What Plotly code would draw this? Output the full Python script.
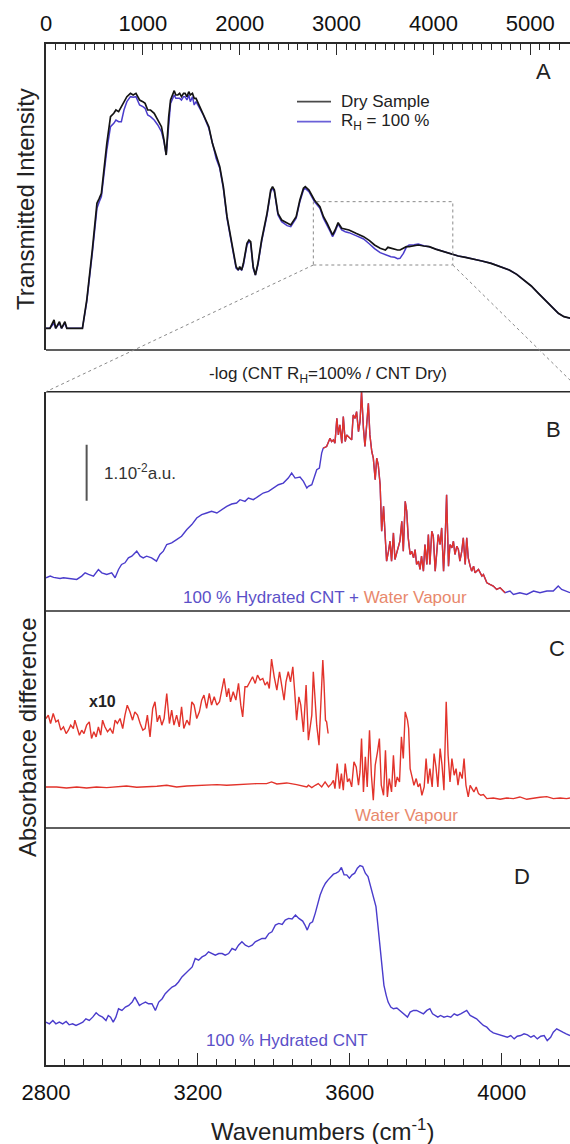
import plotly.graph_objects as go

# ---------------- Panel A : transmitted intensity ----------------
A_WAVENUMBER = [0, 40, 83, 100, 139, 160, 195, 215, 376, 421, 478, 526, 550, 572, 628, 666, 700, 722, 750,
                778, 805, 835, 872, 900, 929, 966, 1000, 1023, 1050, 1079, 1117, 1154, 1192, 1218, 1241, 1267,
                1286, 1324, 1340, 1361, 1380, 1399, 1420, 1436, 1455, 1474, 1490, 1512, 1530, 1549, 1587, 1624,
                1681, 1718, 1740, 1756, 1794, 1831, 1869, 1925, 1963, 1985, 2000, 2020, 2038, 2075, 2095, 2113,
                2139, 2162, 2188, 2226, 2282, 2320, 2339, 2358, 2395, 2433, 2460, 2489, 2527, 2583, 2621, 2658,
                2677, 2715, 2771, 2828, 2865, 2903, 2935, 2959, 2985, 3016, 3053, 3090, 3128, 3200, 3279, 3340,
                3392, 3450, 3504, 3530, 3561, 3600, 3630, 3655, 3690, 3720, 3749, 3800, 3843, 3900, 3956, 4030,
                4106, 4180, 4256, 4330, 4407, 4500, 4595, 4690, 4783, 4860, 4933, 5010, 5084, 5160, 5234, 5290,
                5347, 5414]
A_DRY = [6.5, 6.5, 9.0, 6.5, 8.5, 6.5, 8.5, 6.5, 6.5, 15.0, 30.0, 44.0, 45.5, 47.0, 62.0, 70.0, 71.0, 72.0, 71.5,
         73.0, 74.5, 76.0, 77.0, 76.5, 77.0, 75.0, 74.5, 74.0, 72.0, 72.0, 71.0, 69.0, 67.0, 63.0, 58.5, 70.0,
         75.0, 77.8, 76.5, 76.5, 77.0, 76.0, 77.0, 77.0, 76.0, 77.5, 76.5, 77.0, 75.5, 75.5, 73.0, 71.0,
         67.0, 62.0, 60.0, 58.0, 55.0, 49.0, 40.0, 31.0, 25.0, 24.0, 25.0, 24.0, 26.0, 32.0, 33.0, 32.5,
         25.0, 22.5, 26.0, 33.0, 41.0, 48.0, 49.0, 48.0, 41.0, 39.0, 38.5, 38.0, 37.5, 40.0, 45.0, 48.5,
         49.0, 48.0, 45.0, 43.0, 40.0, 38.0, 36.0, 34.5, 36.0, 38.2, 36.5, 36.3, 36.0, 35.0, 34.0, 32.8,
         31.5, 30.5, 30.0, 30.8, 30.5, 30.2, 30.0, 30.0, 30.5, 31.0, 31.0, 31.2, 31.5, 31.2, 31.0, 30.2,
         29.5, 28.8, 28.2, 27.8, 27.2, 26.7, 26.0, 25.1, 24.0, 22.7, 21.0, 19.2, 17.0, 14.8, 12.5, 11.0,
         10.0, 9.5]
A_WET = [6.5, 6.5, 8.0, 6.5, 8.0, 6.5, 8.0, 6.5, 6.5, 14.5, 29.0, 42.5, 44.5, 46.0, 60.0, 67.0, 68.0, 69.0, 68.5,
         68.5, 72.0, 74.5, 76.0, 75.8, 76.0, 73.5, 73.0, 72.5, 70.5, 70.0, 69.0, 67.5, 65.5, 62.5, 58.5, 69.0,
         74.0, 76.5, 75.5, 75.5, 75.5, 75.0, 76.0, 76.0, 75.0, 76.5, 74.5, 76.0, 73.5, 74.5, 72.5, 70.5,
         66.5, 61.5, 59.5, 57.5, 54.5, 48.5, 39.5, 30.5, 24.5, 24.0, 24.5, 24.0, 25.5, 31.5, 32.5, 32.0,
         24.5, 22.5, 25.5, 32.5, 40.5, 47.5, 48.5, 47.5, 40.5, 38.5, 37.8, 37.3, 37.0, 39.5, 44.5, 48.0,
         48.5, 47.5, 44.5, 42.5, 39.5, 37.5, 35.5, 34.0, 35.5, 37.8, 36.0, 35.5, 35.2, 34.3, 33.3, 31.8,
         30.4, 29.2, 28.5, 28.3, 28.0, 27.8, 27.4, 27.5, 29.0, 30.8, 31.5, 31.6, 31.8, 31.3, 31.0, 30.2,
         29.5, 28.8, 28.2, 27.8, 27.2, 26.7, 26.0, 25.1, 24.0, 22.7, 21.0, 19.2, 17.0, 14.8, 12.5, 11.0,
         10.0, 9.5]
A_TICKS = [0, 1000, 2000, 3000, 4000, 5000]
A_LEGEND = ["Dry Sample", "R<sub>H</sub> = 100 %"]
ZOOM_BOX = (2760, 4200, 25.5, 44.5)   # wavenumber span and intensity span of the magnified region

# ---------------- Panel B : hydrated CNT + water vapour ----------------
B_WAVENUMBER = [2800, 2811, 2820, 2828, 2837, 2846, 2855, 2863, 2872, 2881, 2894, 2903, 2912, 2925, 2938, 2947,
                2960, 2973, 2982, 2991, 2999, 3008, 3017, 3026, 3039, 3048, 3056, 3065, 3078, 3091, 3100, 3109,
                3118, 3131, 3144, 3157, 3171, 3184, 3197, 3210, 3223, 3236, 3250, 3263, 3276, 3289, 3302, 3311,
                3324, 3333, 3346, 3359, 3372, 3386, 3399, 3412, 3425, 3438, 3447, 3456, 3469, 3478, 3487, 3491,
                3500, 3509, 3513, 3520, 3526, 3530, 3539, 3548, 3552, 3557, 3561, 3566, 3570, 3574, 3579, 3583,
                3588, 3592, 3601, 3605, 3609, 3614, 3618, 3623, 3627, 3631, 3636, 3640, 3649, 3653, 3658, 3662,
                3667, 3671, 3675, 3680, 3684, 3689, 3693, 3697, 3702, 3706, 3710, 3715, 3719, 3724, 3732, 3737,
                3741, 3746, 3750, 3754, 3759, 3763, 3768, 3772, 3776, 3781, 3785, 3789, 3794, 3798, 3803, 3807,
                3811, 3816, 3820, 3825, 3829, 3833, 3838, 3842, 3847, 3851, 3855, 3860, 3864, 3869, 3873, 3877,
                3882, 3886, 3890, 3895, 3899, 3904, 3908, 3912, 3917, 3921, 3926, 3930, 3939, 3948, 3952, 3961,
                3969, 3978, 3987, 3996, 4009, 4022, 4031, 4048, 4066, 4084, 4101, 4119, 4136, 4149, 4158, 4171,
                4180]
B_ABS = [10.0, 10.5, 10.1, 10.0, 9.8, 10.0, 9.9, 9.7, 9.8, 9.5, 10.5, 11.5, 11.0, 10.5, 12.5, 11.5,
         11.0, 11.5, 10.0, 12.5, 14.0, 14.5, 16.0, 16.5, 18.0, 16.5, 16.0, 16.5, 16.0, 15.0, 17.0, 18.0,
         20.0, 20.5, 21.5, 22.5, 24.5, 26.0, 28.0, 29.0, 29.5, 30.0, 29.5, 30.5, 31.5, 32.2, 32.5, 33.5,
         33.0, 34.0, 33.5, 34.5, 35.5, 36.0, 37.0, 38.0, 38.5, 40.0, 41.5, 40.0, 40.3, 39.0, 37.0, 37.5,
         38.0, 41.0, 42.5, 43.0, 47.5, 49.0, 49.5, 52.0, 51.0, 51.5, 50.5, 58.0, 53.0, 56.0, 50.5, 58.5,
         51.0, 53.0, 52.0, 51.5, 59.0, 58.0, 60.0, 54.0, 57.0, 66.0, 55.0, 49.5, 62.5, 53.0, 48.0, 46.0,
         39.5, 46.0, 44.0, 38.0, 24.0, 31.5, 23.0, 15.0, 18.0, 21.0, 15.0, 23.5, 15.5, 18.0, 21.0, 27.0,
         18.0, 33.0, 30.0, 22.0, 17.0, 18.0, 16.0, 18.5, 14.0, 15.0, 12.5, 16.5, 12.0, 20.0, 14.0, 23.0,
         14.0, 24.0, 22.5, 12.0, 18.0, 23.0, 20.0, 25.0, 12.0, 21.0, 35.0, 13.5, 20.0, 19.0, 21.0, 17.0,
         19.5, 18.5, 15.0, 18.0, 22.0, 14.0, 22.0, 16.0, 13.5, 12.0, 13.5, 11.5, 12.5, 10.5, 11.0, 8.5,
         8.0, 7.5, 6.5, 7.0, 5.5, 6.0, 5.0, 5.5, 5.0, 6.0, 5.5, 6.0, 6.0, 7.5, 6.5, 6.0,
         5.5]
B_VAPOUR_SPAN = (3530, 4010)     # part of the spectrum dominated by water-vapour lines
SCALE_BAR = (2907, 33.2, 50.0)   # wavenumber, bottom, top : 1.10^-2 a.u.

# ---------------- Panel C : water vapour (and x10 magnification) ----------------
C_X10_WAVENUMBER = [2800, 2806, 2812, 2819, 2826, 2832, 2839, 2846, 2853, 2859, 2865, 2872, 2876, 2883, 2888,
                    2894, 2900, 2907, 2914, 2920, 2926, 2932, 2938, 2944, 2949, 2955, 2962, 2969, 2976, 2982,
                    2988, 2995, 3002, 3008, 3014, 3021, 3028, 3034, 3041, 3048, 3055, 3061, 3067, 3074, 3081,
                    3087, 3093, 3099, 3105, 3111, 3118, 3125, 3131, 3137, 3144, 3151, 3157, 3163, 3171, 3178,
                    3184, 3190, 3197, 3204, 3210, 3216, 3223, 3230, 3236, 3243, 3250, 3257, 3263, 3269, 3276,
                    3281, 3286, 3293, 3300, 3307, 3313, 3318, 3324, 3330, 3337, 3344, 3351, 3357, 3364, 3371,
                    3377, 3383, 3388, 3394, 3401, 3408, 3415, 3421, 3427, 3432, 3438, 3444, 3450, 3455, 3460,
                    3466, 3471, 3478, 3485, 3491, 3500, 3504, 3509, 3513, 3519, 3523, 3529, 3532, 3536, 3539,
                    3543]
C_X10_ABS = [32.8, 33.8, 31.3, 34.3, 31.8, 32.3, 29.3, 30.3, 28.3, 29.3, 30.8, 29.8, 32.3, 29.8, 27.8,
             29.3, 28.3, 30.8, 31.8, 26.8, 28.8, 27.3, 30.3, 27.8, 32.3, 30.3, 28.8, 29.8, 28.3, 32.3,
             31.3, 32.8, 29.8, 33.8, 36.8, 34.8, 32.3, 34.8, 33.8, 31.3, 29.3, 29.8, 33.8, 27.3, 35.8,
             37.8, 31.8, 33.8, 30.8, 32.8, 40.3, 31.3, 35.3, 30.8, 33.8, 30.3, 36.3, 29.8, 32.3, 30.8,
             37.8, 36.8, 32.8, 34.8, 38.3, 39.8, 35.8, 40.3, 36.8, 39.3, 36.8, 37.8, 41.3, 44.8, 39.3,
             41.8, 37.8, 40.8, 38.3, 43.3, 36.8, 33.3, 42.3, 42.3, 43.8, 45.3, 43.3, 45.8, 44.3, 44.8,
             42.8, 43.8, 41.8, 50.6, 45.3, 41.3, 46.8, 41.8, 38.3, 43.8, 46.8, 43.8, 48.3, 40.8, 32.3,
             39.3, 36.8, 28.8, 42.8, 26.3, 33.8, 46.8, 36.8, 30.8, 24.8, 34.8, 50.3, 43.8, 32.3, 31.8,
             28.3]
C_WAVENUMBER = [2800, 2828, 2854, 2881, 2907, 2933, 2960, 2986, 3012, 3039, 3065, 3092, 3118, 3144, 3171,
                3197, 3223, 3250, 3276, 3302, 3329, 3355, 3381, 3394, 3408, 3434, 3460, 3487, 3491, 3500,
                3509, 3517, 3526, 3535, 3544, 3552, 3557, 3561, 3567, 3573, 3578, 3583, 3588, 3594, 3599,
                3605, 3611, 3617, 3623, 3627, 3631, 3636, 3641, 3646, 3652, 3657, 3662, 3667, 3673, 3678,
                3683, 3689, 3694, 3699, 3704, 3710, 3715, 3720, 3725, 3731, 3736, 3741, 3746, 3752, 3755,
                3759, 3764, 3769, 3775, 3780, 3785, 3790, 3796, 3801, 3806, 3811, 3817, 3822, 3827, 3832,
                3838, 3843, 3848, 3854, 3859, 3864, 3869, 3875, 3880, 3885, 3890, 3896, 3901, 3906, 3912,
                3917, 3922, 3927, 3933, 3939, 3945, 3952, 3961, 3978, 3996, 4013, 4031, 4048, 4066, 4084,
                4101, 4119, 4136, 4154, 4171, 4180]
C_ABS = [12.3, 12.3, 12.0, 12.3, 12.0, 12.3, 12.1, 12.3, 12.6, 12.2, 12.3, 12.5, 12.8, 12.3, 12.6,
         12.8, 12.8, 13.0, 12.8, 13.0, 13.2, 13.3, 13.3, 13.8, 13.2, 13.5, 13.0, 12.3, 12.8, 12.1,
         12.8, 13.3, 12.3, 13.8, 12.3, 13.3, 14.3, 11.8, 19.3, 11.8, 16.3, 11.3, 19.3, 13.8, 14.8,
         12.3, 19.8, 18.3, 12.8, 16.8, 26.8, 10.8, 21.3, 12.3, 29.3, 15.8, 8.3, 18.8, 22.8, 26.8,
         12.8, 9.8, 23.3, 9.3, 14.8, 10.8, 21.8, 12.3, 15.3, 13.8, 27.3, 20.8, 34.8, 32.3, 29.8,
         17.8, 15.3, 12.8, 14.8, 12.3, 13.3, 9.8, 12.3, 20.8, 13.3, 17.8, 12.3, 22.3, 18.3, 12.3,
         23.8, 18.8, 11.3, 37.8, 21.8, 13.8, 20.8, 15.8, 17.8, 12.8, 16.8, 14.8, 20.8, 12.8, 9.3,
         12.8, 11.8, 10.8, 12.3, 10.3, 9.8, 10.0, 8.8, 9.0, 8.6, 9.0, 8.8, 9.3, 8.6, 9.0,
         9.2, 9.4, 8.8, 9.0, 8.8, 9.0]

# ---------------- Panel D : 100 % hydrated CNT ----------------
D_WAVENUMBER = [2800, 2809, 2818, 2826, 2835, 2844, 2853, 2861, 2870, 2879, 2888, 2897, 2905, 2914, 2923,
                2932, 2940, 2949, 2958, 2964, 2970, 2977, 2984, 2991, 3000, 3009, 3018, 3027, 3034, 3039,
                3046, 3053, 3062, 3070, 3079, 3088, 3097, 3106, 3114, 3123, 3132, 3141, 3149, 3158, 3167,
                3176, 3185, 3193, 3202, 3211, 3220, 3228, 3237, 3246, 3255, 3264, 3272, 3281, 3290, 3299,
                3307, 3316, 3325, 3334, 3343, 3351, 3360, 3369, 3378, 3387, 3395, 3404, 3413, 3422, 3430,
                3439, 3448, 3457, 3466, 3476, 3482, 3488, 3495, 3502, 3509, 3515, 3522, 3529, 3536, 3543,
                3550, 3557, 3564, 3571, 3578, 3585, 3592, 3599, 3606, 3613, 3620, 3627, 3634, 3641, 3648,
                3655, 3662, 3669, 3674, 3680, 3685, 3690, 3696, 3701, 3708, 3715, 3724, 3731, 3738, 3745,
                3752, 3759, 3768, 3776, 3785, 3794, 3803, 3811, 3818, 3825, 3832, 3839, 3848, 3857, 3866,
                3875, 3883, 3892, 3901, 3908, 3917, 3926, 3934, 3943, 3952, 3961, 3969, 3978, 3987, 3996,
                4006, 4015, 4024, 4033, 4041, 4050, 4059, 4068, 4077, 4085, 4094, 4103, 4112, 4120, 4129,
                4136, 4145, 4152, 4161, 4170, 4180]
D_ABS = [12.8, 12.3, 13.3, 12.3, 12.8, 12.3, 13.0, 12.0, 12.3, 11.8, 12.3, 12.8, 13.8, 13.3, 14.3,
         15.6, 14.8, 14.3, 13.3, 14.8, 14.3, 12.8, 14.3, 16.8, 16.3, 17.3, 17.8, 18.8, 20.3, 19.3,
         17.8, 18.3, 18.8, 18.3, 18.3, 16.3, 18.8, 19.8, 21.3, 22.3, 23.3, 23.8, 24.8, 26.3, 27.3,
         28.3, 29.3, 31.8, 31.3, 32.3, 32.8, 33.8, 33.3, 32.8, 33.3, 33.3, 32.8, 33.3, 34.8, 34.3,
         35.8, 36.8, 35.8, 35.3, 35.8, 36.8, 37.3, 37.8, 37.8, 39.3, 39.8, 41.8, 42.3, 42.0, 43.3,
         43.8, 43.6, 44.8, 43.8, 43.0, 41.8, 40.3, 42.3, 42.8, 45.3, 48.3, 50.8, 52.8, 54.3, 55.3,
         56.3, 57.0, 57.3, 57.8, 59.0, 56.8, 56.8, 55.8, 56.8, 57.3, 58.8, 59.6, 59.3, 57.3, 56.3,
         53.3, 50.3, 47.3, 41.8, 35.8, 29.8, 23.8, 20.8, 18.8, 17.3, 16.8, 17.0, 16.3, 15.8, 15.0,
         14.3, 15.8, 16.3, 16.3, 15.8, 15.3, 16.3, 16.8, 15.3, 14.8, 14.3, 14.8, 14.3, 14.6, 14.3,
         15.3, 14.8, 15.3, 15.8, 16.3, 14.8, 14.3, 13.8, 12.8, 11.8, 11.3, 10.3, 9.6, 9.3, 8.8,
         8.6, 8.3, 8.8, 7.8, 8.6, 8.8, 9.3, 9.0, 8.3, 8.8, 7.8, 8.6, 8.8, 7.3, 8.3,
         9.8, 10.8, 10.3, 9.8, 9.3, 8.8]
ZOOM_TICKS = [2800, 3200, 3600, 4000]

# ---------------- styling ----------------
FONT = "Liberation Sans, Arial, sans-serif"
BLACK = "#141414"
BLUE = "#4a3ccc"
RED = "#e2332b"
TEXT_BLUE = "#5b50c8"
TEXT_SALMON = "#e8886c"
FRAME = "#2a2a2a"

W, H = 570, 1144
LEFT_PX, TOP_PX, BOT_PX = 46, 44, 1065
def py(p):  # pixel row -> paper fraction
    return (BOT_PX - p) / (BOT_PX - TOP_PX)
def px(p):  # pixel column -> paper fraction
    return (p - LEFT_PX) / (W - LEFT_PX)

DOM_A = [py(350), 1.0]
DOM_B = [py(611), py(391.7)]
DOM_C = [py(828), py(611)]
DOM_D = [0.0, py(828)]

A_RANGE = [0, 5410]
A_YRANGE = [0, 91.8]
Z_RANGE = [2800, 4180]

fig = go.Figure()

fig.add_trace(go.Scatter(x=A_WAVENUMBER, y=A_WET, mode="lines", name=A_LEGEND[1], showlegend=False,
                         line=dict(color=BLUE, width=1.5), xaxis="x", yaxis="y"))
fig.add_trace(go.Scatter(x=A_WAVENUMBER, y=A_DRY, mode="lines", name=A_LEGEND[0], showlegend=False,
                         line=dict(color=BLACK, width=1.7), xaxis="x", yaxis="y"))

fig.add_trace(go.Scatter(x=B_WAVENUMBER, y=B_ABS, mode="lines", showlegend=False,
                         line=dict(color=BLUE, width=1.4), xaxis="x2", yaxis="y2"))
vap = [(x, y) for x, y in zip(B_WAVENUMBER, B_ABS) if B_VAPOUR_SPAN[0] <= x <= B_VAPOUR_SPAN[1]]
fig.add_trace(go.Scatter(x=[v[0] for v in vap], y=[v[1] for v in vap], mode="lines", showlegend=False,
                         line=dict(color=RED, width=1.4), xaxis="x2", yaxis="y2"))

fig.add_trace(go.Scatter(x=C_X10_WAVENUMBER, y=C_X10_ABS, mode="lines", showlegend=False,
                         line=dict(color=RED, width=1.4), xaxis="x2", yaxis="y3"))
fig.add_trace(go.Scatter(x=C_WAVENUMBER, y=C_ABS, mode="lines", showlegend=False,
                         line=dict(color=RED, width=1.4), xaxis="x2", yaxis="y3"))

fig.add_trace(go.Scatter(x=D_WAVENUMBER, y=D_ABS, mode="lines", showlegend=False,
                         line=dict(color=BLUE, width=1.4), xaxis="x2", yaxis="y4"))

hidden_y = dict(showticklabels=False, ticks="", showgrid=False, zeroline=False,
                showline=True, linecolor=FRAME, linewidth=1.6)

fig.update_layout(
    width=W, height=H,
    margin=dict(l=LEFT_PX, r=0, t=TOP_PX, b=H - BOT_PX),
    paper_bgcolor="white", plot_bgcolor="white",
    font=dict(family=FONT, color="#222222"),
    showlegend=False,
    xaxis=dict(domain=[0, 1], range=A_RANGE, side="top", anchor="y",
               tickvals=A_TICKS, ticks="inside", ticklen=11, tickwidth=1.2, tickcolor=FRAME,
               minor=dict(dtick=100, tick0=0, ticks="inside", ticklen=6, tickwidth=1, tickcolor=FRAME),
               showline=True, linecolor=FRAME, linewidth=1.6, showgrid=False, zeroline=False,
               tickfont=dict(size=22, color="#111111"), ticklabelstandoff=2),
    yaxis=dict(domain=DOM_A, range=A_YRANGE, anchor="x", **hidden_y),
    xaxis2=dict(domain=[0, 1], range=Z_RANGE, anchor="y4", side="bottom",
                tickvals=ZOOM_TICKS, ticks="inside", ticklen=12, tickwidth=1.3, tickcolor=FRAME,
                minor=dict(dtick=50, tick0=2800, ticks="inside", ticklen=6, tickwidth=1, tickcolor=FRAME),
                showline=True, linecolor=FRAME, linewidth=1.6, showgrid=False, zeroline=False,
                tickfont=dict(size=22, color="#111111"), ticklabelstandoff=7),
    yaxis2=dict(domain=DOM_B, range=[0, 66], anchor="x2", **hidden_y),
    yaxis3=dict(domain=DOM_C, range=[0, 65], anchor="x2", **hidden_y),
    yaxis4=dict(domain=DOM_D, range=[0, 70.8], anchor="x2", **hidden_y),
)

# frame lines between the panels
for ypos in [DOM_A[0], DOM_B[1], DOM_B[0], DOM_C[0]]:
    fig.add_shape(type="line", xref="paper", yref="paper", x0=0, x1=1, y0=ypos, y1=ypos,
                  line=dict(color=FRAME, width=1.6))

# zoom box in A and connector lines to panel B
bx0, bx1, by0, by1 = ZOOM_BOX
fig.add_shape(type="rect", xref="x", yref="y", x0=bx0, x1=bx1, y0=by0, y1=by1,
              line=dict(color="#8a8a8a", width=1, dash="dot"))
box_bottom_paper = DOM_A[0] + (by0 - A_YRANGE[0]) / (A_YRANGE[1] - A_YRANGE[0]) * (DOM_A[1] - DOM_A[0])
fig.add_shape(type="line", xref="x", yref="paper", x0=bx0, y0=box_bottom_paper, x1=0, y1=DOM_B[1],
              line=dict(color="#8a8a8a", width=1, dash="dot"))
fig.add_shape(type="line", xref="x", yref="paper", x0=bx1, y0=box_bottom_paper, x1=5532, y1=DOM_B[1],
              line=dict(color="#8a8a8a", width=1, dash="dot"))

# legend of panel A (line samples + labels)
for i, (lbl, col) in enumerate(zip(A_LEGEND, ["#4a4a4a", "#6a60d8"])):
    yy = py(101.7 + 20 * i)
    fig.add_shape(type="line", xref="paper", yref="paper", x0=px(297), x1=px(331), y0=yy, y1=yy,
                  line=dict(color=col, width=1.8))
    fig.add_annotation(x=px(339), y=yy, xref="paper", yref="paper", text=lbl, showarrow=False,
                       xanchor="left", yanchor="middle", font=dict(size=17, color="#222"))

# scale bar in B
fig.add_shape(type="line", xref="x2", yref="y2", x0=SCALE_BAR[0], x1=SCALE_BAR[0],
              y0=SCALE_BAR[1], y1=SCALE_BAR[2], line=dict(color="#555555", width=2))

mixed_label = ("<span style='color:" + TEXT_BLUE + "'>100 % Hydrated CNT + </span>"
               "<span style='color:" + TEXT_SALMON + "'>Water Vapour</span>")

ann = [
    dict(x=5140, y=83.5, xref="x", yref="y", text="A", font=dict(size=22, color="#222")),
    dict(x=4136, y=54.5, xref="x2", yref="y2", text="B", font=dict(size=22, color="#222")),
    dict(x=4145, y=53.8, xref="x2", yref="y3", text="C", font=dict(size=22, color="#222")),
    dict(x=4053, y=56.3, xref="x2", yref="y4", text="D", font=dict(size=22, color="#222")),
    dict(x=2947, y=41.8, xref="x2", yref="y2", text="1.10<sup>-2</sup>a.u.", xanchor="left",
         font=dict(size=17, color="#333")),
    dict(x=3535, y=4.1, xref="x2", yref="y2", text=mixed_label, font=dict(size=17)),
    dict(x=2949, y=38.0, xref="x2", yref="y3", text="<b>x10</b>", font=dict(size=16, color="#222")),
    dict(x=3750, y=3.8, xref="x2", yref="y3", text="Water Vapour", font=dict(size=17, color=TEXT_SALMON)),
    dict(x=3434, y=7.3, xref="x2", yref="y4", text="100 % Hydrated CNT", font=dict(size=17, color=TEXT_BLUE)),
    dict(x=px(328), y=py(375), xref="paper", yref="paper", text="-log (CNT R<sub>H</sub>=100% / CNT Dry)",
         font=dict(size=17, color="#222")),
    dict(x=px(25), y=py(199), xref="paper", yref="paper", text="Transmitted Intensity", textangle=-90,
         font=dict(size=24, color="#222")),
    dict(x=px(27), y=py(737), xref="paper", yref="paper", text="Absorbance difference", textangle=-90,
         font=dict(size=24, color="#222")),
    dict(x=px(322), y=py(1130), xref="paper", yref="paper", text="Wavenumbers (cm<sup>-1</sup>)",
         font=dict(size=24, color="#222")),
]
for a in ann:
    a.setdefault("showarrow", False)
    a.setdefault("xanchor", "center")
    a.setdefault("yanchor", "middle")
    fig.add_annotation(**a)

fig.write_html("out.html", config={"displayModeBar": False},
               post_script="document.body.style.margin='0';document.body.style.overflow='hidden';")
